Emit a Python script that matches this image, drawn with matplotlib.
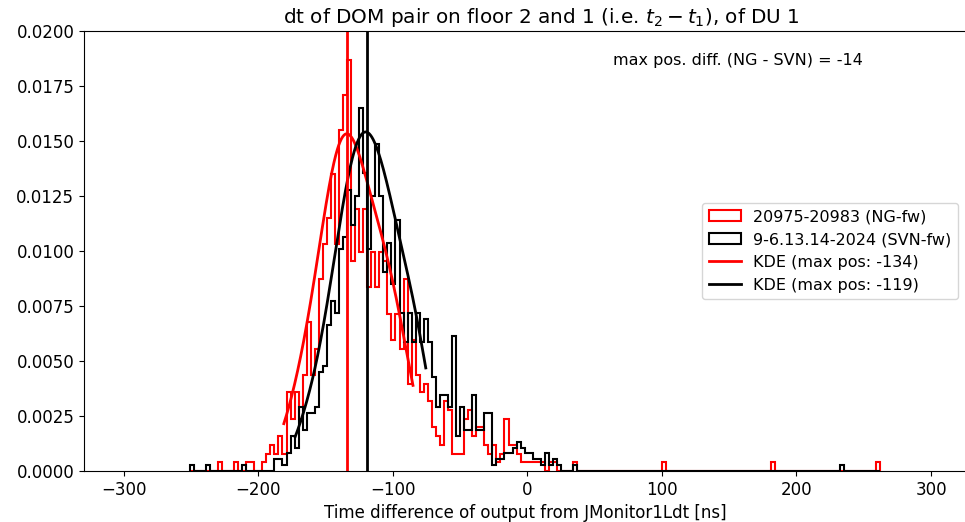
import numpy as np
import matplotlib
matplotlib.use("Agg")
import matplotlib.pyplot as plt
from matplotlib.lines import Line2D

plt.rcParams["font.size"] = 12

# Shared binning of the time differences [ns]
bin_width = 3
bin_start = -251
bin_stop = 262

# NG firmware run: left bin edge -> counts
ng_label = "20975-20983 (NG-fw)"
ng_left_edges = [-230, -218, -209, -206, -197, -194, -191, -188, -185, -182,
                 -179, -176, -173, -170, -167, -164, -161, -158, -155, -152,
                 -149, -146, -143, -140, -137, -134, -131, -128, -125, -122,
                 -119, -116, -113, -110, -107, -104, -101, -98, -95, -92,
                 -89, -86, -83, -80, -77, -74, -71, -68, -65, -62,
                 -59, -56, -53, -50, -47, -44, -41, -38, -35, -32,
                 -29, -26, -23, -20, -17, -14, -11, -8, -5, -2,
                 1, 4, 7, 10, 16, 19, 34, 100, 181, 259]
ng_counts = [1, 1, 1, 1, 1, 2, 3, 2, 4, 2,
             9, 6, 9, 6, 11, 17, 11, 14, 22, 26,
             29, 34, 26, 39, 43, 47, 24, 30, 25, 30,
             21, 25, 21, 25, 24, 18, 15, 18, 14, 22,
             10, 15, 11, 9, 10, 8, 5, 4, 3, 8,
             7, 2, 2, 2, 6, 7, 4, 5, 5, 3,
             2, 3, 1, 2, 6, 3, 3, 2, 1, 1,
             1, 1, 1, 1, 1, 1, 1, 1, 1, 1]

# SVN firmware run: left bin edge -> counts
svn_label = "9-6.13.14-2024 (SVN-fw)"
svn_left_edges = [-251, -239, -212, -188, -185, -182, -179, -176, -173, -170,
                  -167, -164, -161, -158, -155, -152, -149, -146, -143, -140,
                  -137, -134, -131, -128, -125, -122, -119, -116, -113, -110,
                  -107, -104, -101, -98, -95, -92, -89, -86, -83, -80,
                  -77, -74, -71, -68, -65, -62, -59, -56, -53, -50,
                  -47, -44, -41, -38, -35, -32, -29, -26, -23, -20,
                  -17, -14, -11, -8, -5, -2, 1, 4, 7, 10,
                  13, 16, 19, 22, 34, 232]
svn_counts = [1, 1, 1, 2, 2, 1, 3, 6, 4, 11,
              7, 10, 10, 11, 17, 18, 25, 29, 27, 38,
              40, 48, 42, 47, 62, 51, 38, 47, 56, 47,
              34, 39, 32, 43, 27, 22, 27, 22, 27, 22,
              26, 22, 16, 11, 13, 13, 11, 23, 6, 11,
              7, 7, 13, 7, 7, 10, 10, 1, 2, 2,
              3, 3, 4, 5, 4, 3, 3, 2, 2, 1,
              3, 1, 2, 1, 1, 1]

# KDE maxima [ns], the window each KDE is fitted and shown in, and bandwidths [ns]
ng_kde_peak = -134
svn_kde_peak = -119
max_pos_diff = -14
ng_kde_range = (-181, -85)
svn_kde_range = (-172.5, -75.5)
ng_kde_bw = 12.0
svn_kde_bw = 10.0

edges = np.arange(bin_start, bin_stop + bin_width, bin_width)


def windowed_kde(centers, counts, window, bw, npts=300):
    """Gaussian KDE of the entries inside `window`, evaluated across it."""
    centers = np.asarray(centers, float)
    w = np.asarray(counts, float)
    inside = (centers >= window[0]) & (centers <= window[1])
    c, w = centers[inside], w[inside]
    grid = np.linspace(window[0], window[1], npts)
    z = (grid[:, None] - c[None, :]) / bw
    dens = np.exp(-0.5 * z ** 2) @ w / (w.sum() * bw * np.sqrt(2 * np.pi))
    return grid, dens


fig = plt.figure(figsize=(9.65, 5.22), dpi=100)
ax = fig.add_axes([84 / 965, 51 / 522, 882 / 965, 440 / 522])

ng_centers = np.array(ng_left_edges) + bin_width / 2
svn_centers = np.array(svn_left_edges) + bin_width / 2

_, _, ng_patch = ax.hist(ng_centers, bins=edges, weights=ng_counts, density=True,
                         histtype="step", color="red", linewidth=1.5)
_, _, svn_patch = ax.hist(svn_centers, bins=edges, weights=svn_counts, density=True,
                          histtype="step", color="black", linewidth=1.5)

ax.plot(*windowed_kde(ng_centers, ng_counts, ng_kde_range, ng_kde_bw),
        color="red", linewidth=2)
ax.plot(*windowed_kde(svn_centers, svn_counts, svn_kde_range, svn_kde_bw),
        color="black", linewidth=2)

ax.axvline(ng_kde_peak, color="red", linewidth=2)
ax.axvline(svn_kde_peak, color="black", linewidth=2)

ax.set_xlim(-329.5, 326)
ax.set_ylim(0, 0.02)
ax.set_xlabel("Time difference of output from JMonitor1Ldt [ns]")
ax.set_title("dt of DOM pair on floor 2 and 1 (i.e. $t_2 - t_1$), of DU 1",
             fontsize=14.4, x=0.518)
ax.text(0.6, 0.95, f"max pos. diff. (NG - SVN) = {max_pos_diff}",
        transform=ax.transAxes, va="top", ha="left", fontsize=11.5)

handles = [ng_patch[0], svn_patch[0],
           Line2D([], [], color="red", linewidth=2),
           Line2D([], [], color="black", linewidth=2)]
labels = [ng_label, svn_label,
          f"KDE (max pos: {ng_kde_peak})", f"KDE (max pos: {svn_kde_peak})"]
ax.legend(handles, labels, loc="center right", fontsize=11.5)

fig.savefig("out.png", dpi=100)
